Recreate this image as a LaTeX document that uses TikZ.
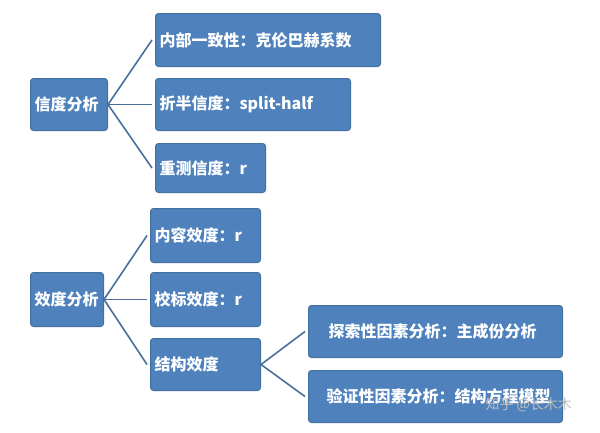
\documentclass[tikz,border=0pt]{standalone}
\usepackage{fontspec}
\newfontfamily\cjk{Noto Sans CJK SC}
\begin{document}
\begin{tikzpicture}[x=1pt,y=-1pt,
  box/.style={draw=bfr, fill=bfill, rounded corners=3pt, line width=1pt, anchor=north west,
    text=white, font=\cjk\bfseries\fontsize{16}{18}\selectfont, align=left, inner xsep=4pt, inner ysep=0pt},
  con/.style={draw=lcol, line width=1.6pt}]
\definecolor{bfill}{HTML}{4F81BD}
\definecolor{bfr}{HTML}{42709F}
\definecolor{lcol}{HTML}{4A6F9B}
\useasboundingbox (0,0) rectangle (600,432);
\fill[white] (0,0) rectangle (600,432);
\node[box, text width=69pt, minimum height=52pt] (xd) at (30,78) {信度分析};
\node[box, text width=217pt, minimum height=53pt] (a1) at (155,13) {内部一致性：克伦巴赫系数};
\node[box, text width=187pt, minimum height=52pt] (a2) at (155,78) {折半信度：split-half};
\node[box, text width=102pt, minimum height=49pt] (a3) at (155,143) {重测信度：r};
\node[box, text width=65pt, minimum height=54pt] (xv) at (30,272) {效度分析};
\node[box, text width=102pt, minimum height=54pt] (b1) at (150,208) {内容效度：r};
\node[box, text width=102pt, minimum height=54pt] (b2) at (150,272) {校标效度：r};
\node[box, text width=102pt, minimum height=52pt] (b3) at (150,338) {结构效度};
\node[box, text width=246pt, minimum height=52pt] (c1) at (308,305) {\hspace{16pt}探索性因素分析：主成份分析};
\node[box, text width=246pt, minimum height=52pt] (c2) at (308,370) {\hspace{14pt}验证性因素分析：结构方程模型};
\foreach \c in {a1,a2,a3} \draw[con] (xd.east) -- ([xshift=-3pt]\c.west);
\foreach \c in {b1,b2,b3} \draw[con] (xv.east) -- ([xshift=-3pt]\c.west);
\foreach \c in {c1,c2} \draw[con] (b3.east) -- ([xshift=-3pt]\c.west);
\node[text=gray!50, font=\cjk\fontsize{14}{16}\selectfont, anchor=west] (wm) at (482,405) {知乎 @长木木};
\end{tikzpicture}
\end{document}
